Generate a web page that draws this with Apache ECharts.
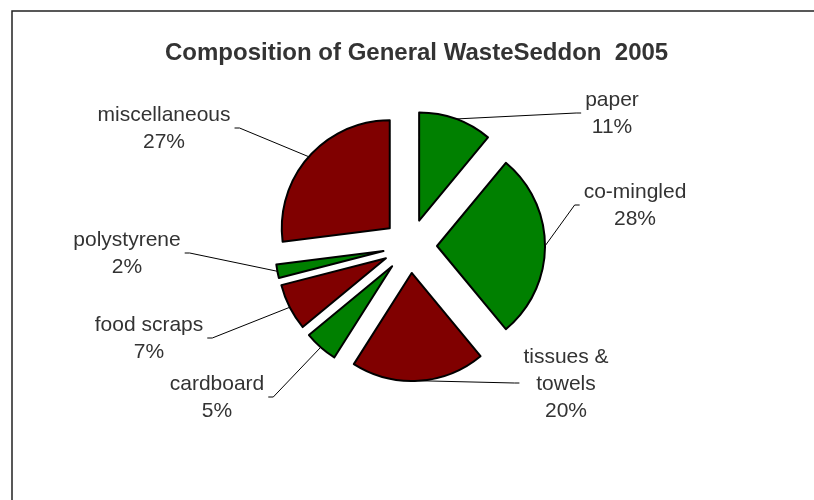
<!DOCTYPE html>
<html>
<head>
<meta charset="utf-8">
<script src="https://cdn.jsdelivr.net/npm/echarts@6/dist/echarts.min.js"></script>
<style>
html,body{margin:0;padding:0;background:#fff;}
#chart{width:814px;height:500px;}
</style>
</head>
<body>
<div id="chart"></div>
<script>
// ---- data ----
const categories = ['paper', 'co-mingled', 'tissues & towels', 'cardboard', 'food scraps', 'polystyrene', 'miscellaneous'];
const values = [11, 28, 20, 5, 7, 2, 27];
const sliceColors = ['#008000', '#008000', '#800000', '#008000', '#800000', '#008000', '#800000'];
const titleText = 'Composition of General WasteSeddon  2005';

// ---- layout ----
const pieCenter = [410, 246];
const pieRadius = 108;
const explode = 27;
// label block centres (px)
const labelCenters = [
  [612, 114],
  [635, 206],
  [566, 384],
  [217, 398],
  [149, 339],
  [127, 254],
  [164, 129]
];

const chart = echarts.init(document.getElementById('chart'), null, {renderer: 'canvas'});

const sliceData = categories.map((name, i) => ({
  name: name,
  value: values[i],
  selected: true,
  itemStyle: {color: sliceColors[i]}
}));

const labelData = categories.map((name, i) => ({
  name: name,
  value: values[i]
}));

chart.setOption({
  animation: false,
  title: {
    text: titleText,
    left: 160,
    top: 36,
    textStyle: {
      fontFamily: 'Liberation Sans',
      fontSize: 24,
      fontWeight: 'bold',
      color: '#333'
    }
  },
  graphic: [{
    type: 'rect',
    shape: {x: 12, y: 11, width: 830, height: 520},
    style: {fill: null, stroke: '#222', lineWidth: 1.5},
    silent: true
  }],
  series: [{
    // visible exploded slices
    type: 'pie',
    center: pieCenter,
    radius: [0, pieRadius],
    startAngle: 90,
    clockwise: true,
    selectedMode: 'multiple',
    selectedOffset: explode,
    silent: true,
    data: sliceData,
    itemStyle: {borderColor: '#000', borderWidth: 2},
    emphasis: {disabled: true},
    select: {itemStyle: {borderColor: '#000', borderWidth: 2}},
    label: {show: false},
    labelLine: {show: false},
    z: 2
  }, {
    // label carrier: same angles, radius reaching the exploded arcs
    type: 'pie',
    center: pieCenter,
    radius: [0, pieRadius + explode],
    startAngle: 90,
    clockwise: true,
    silent: true,
    avoidLabelOverlap: false,
    percentPrecision: 0,
    data: labelData,
    itemStyle: {color: 'rgba(0,0,0,0)', borderWidth: 0},
    emphasis: {disabled: true},
    label: {
      show: true,
      position: 'outside',
      formatter: function (p) {
        return p.name.replace('& ', '&\n') + '\n' + p.percent + '%';
      },
      fontFamily: 'Liberation Sans',
      fontSize: 21,
      lineHeight: 27,
      color: '#333',
      align: 'center'
    },
    labelLine: {
      show: true,
      length: 10,
      length2: 5,
      lineStyle: {color: '#000', width: 1}
    },
    labelLayout: function (params) {
      const c = labelCenters[params.dataIndex];
      const w = params.labelRect.width;
      const onLeft = c[0] < pieCenter[0];
      const edgeX = onLeft ? c[0] + w / 2 + 4 : c[0] - w / 2 - 4;
      const elbowX = onLeft ? edgeX + 5 : edgeX - 5;
      const lineY = c[1] - 1;
      const out = {x: c[0], y: c[1], align: 'center', verticalAlign: 'middle'};
      if (params.labelLinePoints && params.labelLinePoints[0]) {
        out.labelLinePoints = [
          params.labelLinePoints[0],
          [elbowX, lineY],
          [edgeX, lineY]
        ];
      }
      return out;
    },
    z: 3
  }]
});
</script>
</body>
</html>
